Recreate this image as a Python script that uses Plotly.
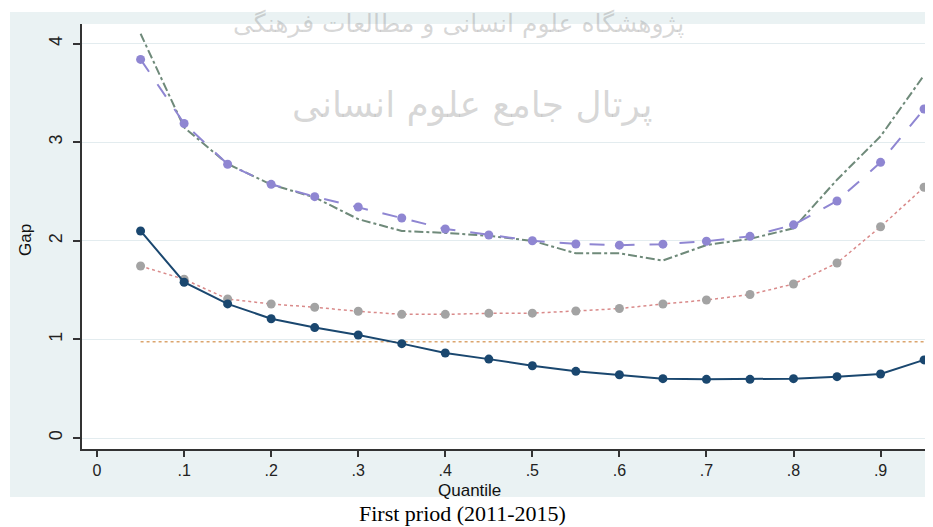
import plotly.graph_objects as go

quantiles = [0.05, 0.10, 0.15, 0.20, 0.25, 0.30, 0.35, 0.40, 0.45, 0.50,
             0.55, 0.60, 0.65, 0.70, 0.75, 0.80, 0.85, 0.90, 0.95]

gap_navy = [2.10, 1.58, 1.36, 1.21, 1.12, 1.045, 0.957, 0.862, 0.80, 0.733,
            0.676, 0.642, 0.602, 0.595, 0.595, 0.602, 0.622, 0.649, 0.792]
gap_gray = [1.744, 1.61, 1.41, 1.359, 1.326, 1.285, 1.254, 1.254, 1.264, 1.266,
            1.288, 1.313, 1.359, 1.40, 1.455, 1.562, 1.775, 2.143, 2.543]
gap_purple = [3.84, 3.19, 2.776, 2.573, 2.448, 2.343, 2.231, 2.12, 2.059, 2.001,
              1.968, 1.956, 1.966, 1.996, 2.045, 2.162, 2.404, 2.796, 3.337]
gap_green = [4.10, 3.15, 2.78, 2.57, 2.44, 2.22, 2.10, 2.08, 2.05, 2.00,
             1.873, 1.873, 1.80, 1.957, 2.02, 2.127, 2.62, 3.06, 3.68]
gap_ref = [0.975] * 19

x_ticks = [0, 0.1, 0.2, 0.3, 0.4, 0.5, 0.6, 0.7, 0.8, 0.9]
x_tick_labels = ["0", ".1", ".2", ".3", ".4", ".5", ".6", ".7", ".8", ".9"]
y_ticks = [0, 1, 2, 3, 4]
y_tick_labels = ["0", "1", "2", "3", "4"]

OFF = 8  # page body margin
W, H = 933 - OFF, 527 - OFF
L, R, T, B = 82 - OFF, 928 - OFF, 24 - OFF, 449 - OFF  # plot area (figure px)


def px(xs):
    return (xs - OFF - L) / (R - L)


def py(ys):
    return (B - (ys - OFF)) / (B - T)


fig = go.Figure()

fig.add_trace(go.Scatter(x=quantiles, y=gap_ref, mode="lines",
                         line=dict(color="#dba56e", width=1.5, dash="dot"),
                         hoverinfo="skip"))
fig.add_trace(go.Scatter(x=quantiles, y=gap_green, mode="lines",
                         line=dict(color="#6f8a7a", width=2, dash="dashdot")))
fig.add_trace(go.Scatter(x=quantiles, y=gap_purple, mode="lines+markers",
                         line=dict(color="#8f86d2", width=2, dash="longdash"),
                         marker=dict(color="#8f86d2", size=9)))
fig.add_trace(go.Scatter(x=quantiles, y=gap_gray, mode="lines+markers",
                         line=dict(color="#d98a8a", width=1.5, dash="dot"),
                         marker=dict(color="#a3a3a3", size=9)))
fig.add_trace(go.Scatter(x=quantiles, y=gap_navy, mode="lines+markers",
                         line=dict(color="#1a476f", width=2),
                         marker=dict(color="#1a476f", size=9)))

shapes = [
    dict(type="rect", xref="paper", yref="paper", x0=px(10), x1=px(945),
         y0=py(497), y1=py(12), fillcolor="#eaf2f3", line=dict(width=0),
         layer="below"),
    dict(type="rect", xref="paper", yref="paper", x0=0, x1=1, y0=0, y1=1,
         fillcolor="#ffffff", line=dict(width=0), layer="below"),
]

wm = "rgba(140,140,140,0.35)"
annotations = [
    dict(text="Quantile", xref="paper", yref="paper", x=px(469), y=py(490),
         showarrow=False, xanchor="center", yanchor="middle",
         font=dict(family="Liberation Sans", size=17, color="#111")),
    dict(text="Gap", xref="paper", yref="paper", x=px(25), y=py(240),
         showarrow=False, textangle=-90, xanchor="center", yanchor="middle",
         font=dict(family="Liberation Sans", size=17, color="#111")),
    dict(text="First priod (2011-2015)", xref="paper", yref="paper",
         x=px(462), y=py(514), showarrow=False, xanchor="center",
         yanchor="middle",
         font=dict(family="Liberation Serif", size=22, color="#000")),
    dict(text="پژوهشگاه علوم انسانی و مطالعات فرهنگی", xref="paper",
         yref="paper", x=px(458), y=py(24), showarrow=False,
         xanchor="center", yanchor="middle",
         font=dict(family="DejaVu Sans", size=25, color=wm)),
    dict(text="پرتال جامع علوم انسانی", xref="paper", yref="paper",
         x=px(472), y=py(105), showarrow=False, xanchor="center",
         yanchor="middle",
         font=dict(family="DejaVu Sans", size=36, color=wm)),
]

fig.update_layout(
    width=W, height=H,
    margin=dict(l=L, r=W - R, t=T, b=H - B),
    paper_bgcolor="#ffffff", plot_bgcolor="#ffffff",
    showlegend=False,
    shapes=shapes, annotations=annotations,
    xaxis=dict(range=[-0.0173, 0.9545], tickvals=x_ticks, ticktext=x_tick_labels,
               showgrid=False, zeroline=False, showline=True,
               linecolor="#333333", linewidth=1.5, ticks="outside", ticklen=6,
               tickcolor="#333333", tickwidth=1.5,
               tickfont=dict(family="Liberation Sans", size=16, color="#222")),
    yaxis=dict(range=[-0.1116, 4.199], tickvals=y_ticks, ticktext=y_tick_labels,
               showgrid=True, gridcolor="#e3ecef", gridwidth=1, zeroline=False,
               showline=True, linecolor="#333333", linewidth=1.5,
               ticks="outside", ticklen=7, tickcolor="#333333", tickwidth=1.5,
               tickangle=-90, ticklabelstandoff=4,
               tickfont=dict(family="Liberation Sans", size=18, color="#222")),
)

fig.write_html("out.html")
